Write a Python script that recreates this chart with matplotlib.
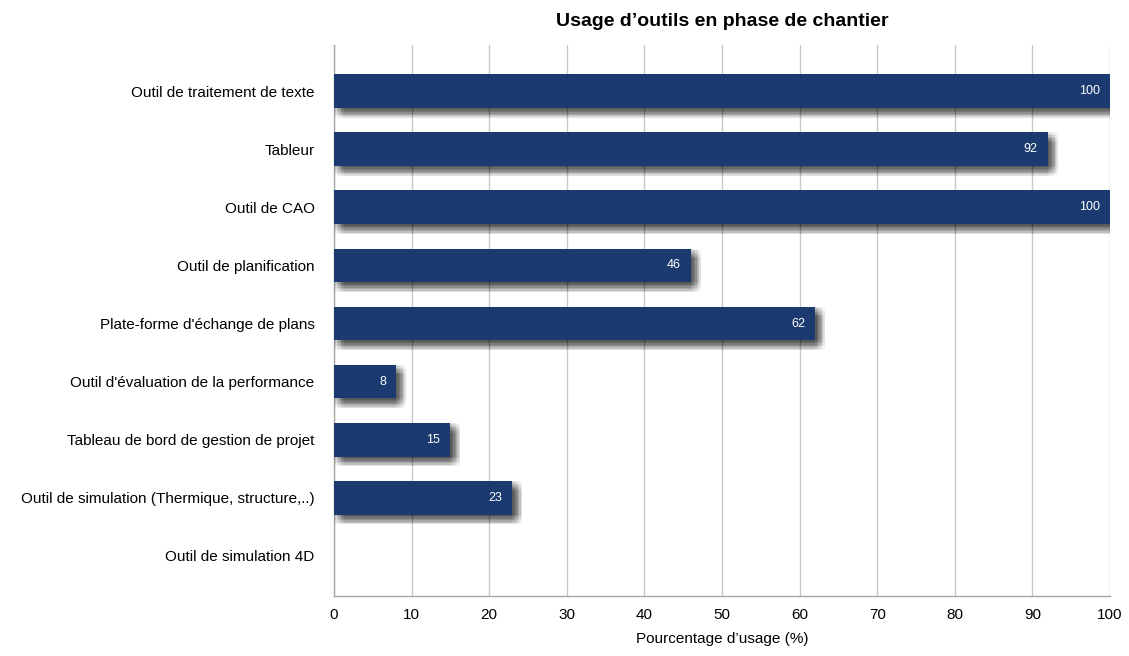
import numpy as np
import matplotlib
matplotlib.use("Agg")
import matplotlib.pyplot as plt
import matplotlib.patheffects as pe

plt.rcParams['font.family'] = ['Liberation Sans', 'DejaVu Sans']

categories = [
    "Outil de traitement de texte",
    "Tableur",
    "Outil de CAO",
    "Outil de planification",
    "Plate-forme d'échange de plans",
    "Outil d'évaluation de la performance",
    "Tableau de bord de gestion de projet",
    "Outil de simulation (Thermique, structure,..)",
    "Outil de simulation 4D",
]
values = [100, 92, 100, 46, 62, 8, 15, 23, 0]
ticks = [0, 10, 20, 30, 40, 50, 60, 70, 80, 90, 100]

bar_color = "#1b3a6f"

fig = plt.figure(figsize=(11.29, 6.56), dpi=100)
ax = fig.add_axes([0.2958, 0.0915, 0.6874, 0.8395])

y = np.arange(len(categories))
bars = ax.barh(y, values, height=0.58, color=bar_color, zorder=3)

# soft drop shadow: several faint offset copies
shadow = []
for dx in range(0, 8):
    for dy in range(0, 8):
        shadow.append(pe.SimplePatchShadow(offset=(dx, -dy), shadow_rgbFace="black", alpha=0.016))
for b in bars:
    b.set_path_effects(shadow + [pe.Normal()])

for yi, v in zip(y, values):
    if v > 0:
        ax.text(v - 1.3, yi, str(v), color="white", ha="right", va="center", fontsize=9, zorder=4)

ax.set_xlim(0, 100)
ax.set_ylim(len(categories) - 1 + 0.69, -0.79)
ax.set_xticks(ticks)
ax.set_yticks(y)
ax.set_yticklabels(categories, fontsize=11)
ax.tick_params(axis='x', labelsize=11, length=0, pad=9)
ax.tick_params(axis='y', length=0, pad=14)
ax.xaxis.grid(True, color="#c8c8c8", linewidth=1, zorder=0)
ax.set_axisbelow(True)
for s in ["top", "right"]:
    ax.spines[s].set_visible(False)
for s in ["left", "bottom"]:
    ax.spines[s].set_color("#a8a8a8")
    ax.spines[s].set_linewidth(1)

ax.set_xlabel("Pourcentage d\u2019usage (%)", fontsize=11, labelpad=7)
ax.set_title("Usage d\u2019outils en phase de chantier", fontsize=14, fontweight="bold", pad=14)

fig.savefig("out.png", dpi=100)
